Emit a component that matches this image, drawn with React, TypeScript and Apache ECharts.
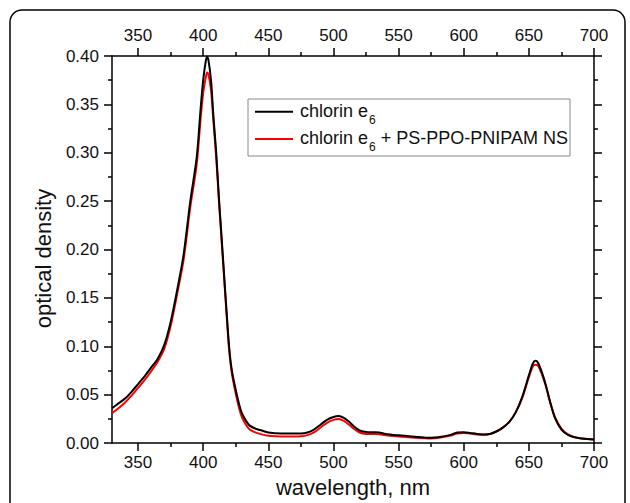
import React, { useEffect, useRef } from "react";
import * as echarts from "echarts";

const wavelengths = [
  330, 335, 340, 345, 350, 355, 360, 365, 370, 375, 380, 385, 390, 395, 398, 400, 402, 403, 404, 406,
  408, 410, 412, 414, 416, 418, 420, 422, 425, 428, 430, 435, 440, 445, 450, 460, 470, 475, 480, 485,
  490, 495, 500, 504, 508, 512, 516, 520, 525, 530, 535, 540, 550, 560, 570, 575, 580, 590, 595, 600,
  605, 610, 615, 620, 625, 630, 635, 640, 645, 650, 653, 655, 657, 660, 663, 666, 670, 675, 680, 685,
  690, 695, 700,
];

const chlorinE6 = [
  0.036, 0.041, 0.046, 0.053, 0.061, 0.069, 0.078, 0.087, 0.101, 0.125, 0.158, 0.195, 0.249, 0.295, 0.345, 0.375, 0.395, 0.399, 0.396, 0.375,
  0.335, 0.3, 0.255, 0.215, 0.175, 0.135, 0.098, 0.075, 0.055, 0.038, 0.03, 0.019, 0.015, 0.013, 0.011, 0.01, 0.01, 0.01, 0.011, 0.014,
  0.019, 0.024, 0.027, 0.028, 0.026, 0.022, 0.017, 0.013, 0.0115, 0.0112, 0.011, 0.0095, 0.008, 0.0068, 0.0058, 0.0055, 0.006, 0.0085, 0.011, 0.0113,
  0.0105, 0.0095, 0.009, 0.0095, 0.012, 0.016, 0.022, 0.032, 0.048, 0.07, 0.082, 0.085, 0.083, 0.073, 0.06, 0.044, 0.026, 0.014, 0.0085, 0.006,
  0.0048, 0.0042, 0.0038,
];

const chlorinE6NS = [
  0.031, 0.036, 0.042, 0.049, 0.057, 0.065, 0.074, 0.084, 0.097, 0.121, 0.154, 0.19, 0.243, 0.288, 0.335, 0.362, 0.378, 0.383, 0.381, 0.365,
  0.33, 0.295, 0.252, 0.212, 0.172, 0.132, 0.095, 0.072, 0.051, 0.034, 0.026, 0.015, 0.011, 0.009, 0.0075, 0.0068, 0.0068, 0.007, 0.0082, 0.011,
  0.016, 0.021, 0.024, 0.025, 0.023, 0.019, 0.0145, 0.011, 0.0095, 0.0093, 0.0092, 0.008, 0.0068, 0.0058, 0.005, 0.0048, 0.0053, 0.0078, 0.01, 0.0105,
  0.0098, 0.009, 0.0087, 0.0093, 0.012, 0.016, 0.022, 0.032, 0.047, 0.068, 0.079, 0.081, 0.08, 0.071, 0.059, 0.044, 0.027, 0.015, 0.009, 0.0062,
  0.005, 0.0043, 0.0038,
];

const xMajorTicks = [350, 400, 450, 500, 550, 600, 650, 700];
const xMinorTicks = [375, 425, 475, 525, 575, 625, 675];

const seriesNames = ["chlorin e6", "chlorin e6 + PS-PPO-PNIPAM NS"];
const legendRich = ["{n|chlorin e}{s|6}", "{n|chlorin e}{s|6}{n| + PS-PPO-PNIPAM NS}"];
const seriesColors = ["#000", "#f00"];

const FONT = "'Liberation Sans', Arial, sans-serif";
const TEXT = "#111";
const AXIS = { color: "#000", width: 1.5 };
const TICK_FONT = 17;
const TITLE_FONT = 22;
const LEGEND_FONT = 18;

export default function App() {
  const ref = useRef<HTMLDivElement>(null);

  useEffect(() => {
    if (!ref.current) return;
    const chart = echarts.init(ref.current, undefined, { renderer: "svg" });

    const xBase = (position: "top" | "bottom", major: boolean, labels: boolean) => ({
      type: "value",
      position,
      min: 330,
      max: 700,
      axisLine: { show: major, onZero: false, lineStyle: AXIS },
      axisTick: {
        show: true,
        inside: false,
        length: major ? 8 : 4,
        customValues: major ? xMajorTicks : xMinorTicks,
        lineStyle: AXIS,
      },
      axisLabel: labels
        ? {
            show: true,
            customValues: xMajorTicks,
            fontSize: TICK_FONT,
            color: TEXT,
            fontFamily: FONT,
            margin: position === "bottom" ? 11 : 12,
          }
        : { show: false },
      splitLine: { show: false },
    });

    const yBase = (position: "left" | "right", labels: boolean) => ({
      type: "value",
      position,
      min: 0,
      max: 0.4,
      interval: 0.05,
      axisLine: { show: true, onZero: false, lineStyle: AXIS },
      axisTick: { show: true, inside: false, length: 8, lineStyle: AXIS },
      minorTick: { show: true, splitNumber: 2, length: 4, lineStyle: AXIS },
      axisLabel: labels
        ? {
            show: true,
            fontSize: TICK_FONT,
            color: TEXT,
            fontFamily: FONT,
            margin: 13,
            formatter: (v: number) => v.toFixed(2),
          }
        : { show: false },
      splitLine: { show: false },
    });

    const legendX = 248;
    const legendY = 99;
    const rowY = [111.7, 139];

    const legendGraphics: any[] = [
      {
        type: "rect",
        shape: { x: legendX, y: legendY, width: 322, height: 57 },
        style: { fill: "#fff", stroke: "#888", lineWidth: 1 },
        z: 50,
        silent: true,
      },
    ];
    seriesNames.forEach((_, i) => {
      legendGraphics.push({
        type: "line",
        shape: { x1: 255, y1: rowY[i], x2: 293, y2: rowY[i] },
        style: { stroke: seriesColors[i], lineWidth: 2 },
        z: 51,
        silent: true,
      });
      legendGraphics.push({
        type: "text",
        x: 300,
        y: rowY[i] - 10,
        z: 51,
        silent: true,
        style: {
          text: legendRich[i],
          verticalAlign: "top",
          align: "left",
          fontFamily: FONT,
          fill: TEXT,
          rich: {
            n: { fontSize: LEGEND_FONT, fontFamily: FONT, fill: TEXT, verticalAlign: "top", lineHeight: 20 },
            s: { fontSize: 12, fontFamily: FONT, fill: TEXT, verticalAlign: "top", padding: [12, 0, 0, 1] },
          },
        },
      });
    });

    chart.setOption({
      animation: false,
      backgroundColor: "#fff",
      grid: { left: 112, right: 36, top: 56, bottom: 56, containLabel: false },
      xAxis: [
        {
          ...xBase("bottom", true, true),
          name: "wavelength, nm",
          nameLocation: "middle",
          nameGap: 31,
          nameTextStyle: { fontSize: TITLE_FONT, color: TEXT, fontFamily: FONT },
        },
        xBase("bottom", false, false),
        xBase("top", true, true),
        xBase("top", false, false),
      ],
      yAxis: [
        {
          ...yBase("left", true),
          name: "optical density",
          nameLocation: "middle",
          nameGap: 58,
          nameTextStyle: { fontSize: TITLE_FONT, color: TEXT, fontFamily: FONT, padding: [0, 18, 0, 0] },
        },
        yBase("right", false),
      ],
      graphic: [
        ...legendGraphics,
        {
          type: "rect",
          shape: { x: 10, y: 10, width: 615, height: 540, r: 12 },
          style: { fill: "none", stroke: "#000", lineWidth: 1.5 },
          z: 100,
          silent: true,
        },
      ],
      series: [
        {
          name: seriesNames[0],
          type: "line",
          xAxisIndex: 0,
          yAxisIndex: 0,
          data: wavelengths.map((w, i) => [w, chlorinE6[i]]),
          showSymbol: false,
          symbol: "none",
          smooth: 0.3,
          lineStyle: { color: seriesColors[0], width: 2 },
          itemStyle: { color: seriesColors[0] },
          z: 3,
        },
        {
          name: seriesNames[1],
          type: "line",
          xAxisIndex: 0,
          yAxisIndex: 0,
          data: wavelengths.map((w, i) => [w, chlorinE6NS[i]]),
          showSymbol: false,
          symbol: "none",
          smooth: 0.3,
          lineStyle: { color: seriesColors[1], width: 2 },
          itemStyle: { color: seriesColors[1] },
          z: 2,
        },
      ],
    });

    return () => chart.dispose();
  }, []);

  return (
    <div
      ref={ref}
      style={{ position: "fixed", left: 0, top: 0, width: 630, height: 503, background: "#fff" }}
    />
  );
}
